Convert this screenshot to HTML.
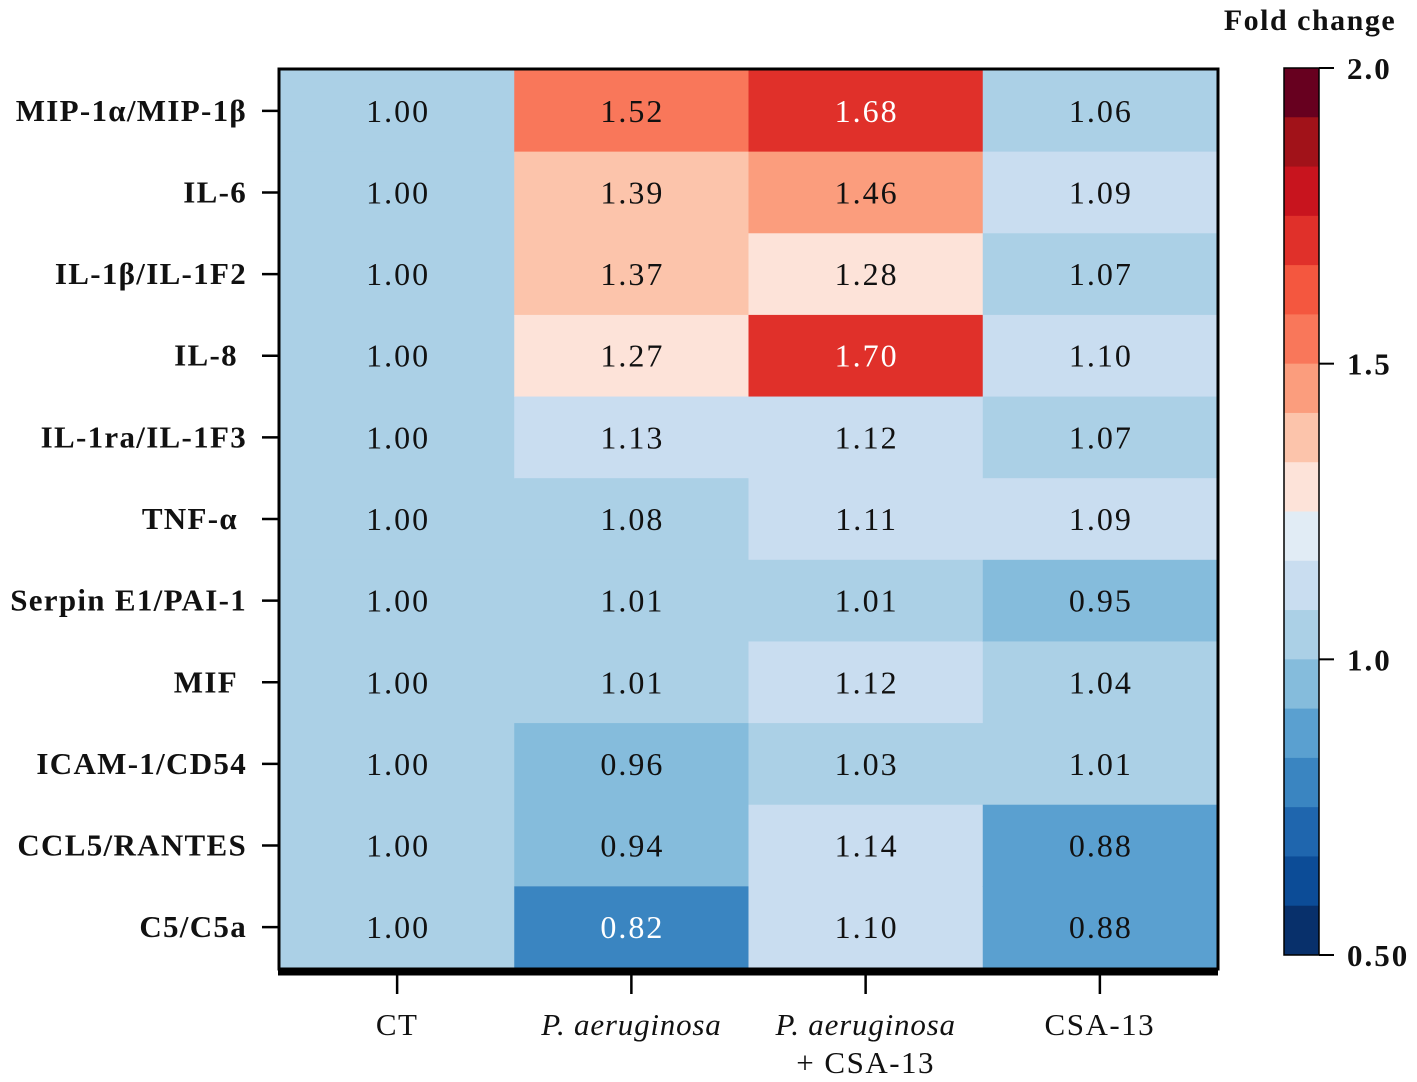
<!DOCTYPE html>
<html><head><meta charset="utf-8">
<style>
html,body{margin:0;padding:0;background:#fff;}
svg{display:block;}
text{font-family:"Liberation Serif",serif;}
</style></head>
<body>
<svg id="chart" width="1417" height="1082" viewBox="0 0 1417 1082" xmlns="http://www.w3.org/2000/svg"></svg>
<script>
const rows = ["MIP-1\u03b1/MIP-1\u03b2","IL-6","IL-1\u03b2/IL-1F2","IL-8\u00a0","IL-1ra/IL-1F3","TNF-\u03b1\u00a0","Serpin E1/PAI-1","MIF\u00a0","ICAM-1/CD54","CCL5/RANTES","C5/C5a"];
const cols = ["CT","P. aeruginosa","P. aeruginosa|+ CSA-13","CSA-13"];
const colCT = [1.00,1.00,1.00,1.00,1.00,1.00,1.00,1.00,1.00,1.00,1.00];
const colPA = [1.52,1.39,1.37,1.27,1.13,1.08,1.01,1.01,0.96,0.94,0.82];
const colPACSA = [1.68,1.46,1.28,1.70,1.12,1.11,1.01,1.12,1.03,1.14,1.10];
const colCSA = [1.06,1.09,1.07,1.10,1.07,1.09,0.95,1.04,1.01,0.88,0.88];
const cbTicks = [2.0,1.5,1.0,0.5];
const cbTickLabels = ["2.0","1.5","1.0","0.50"];
const palette = ["#67001f","#a11219","#c8141e","#e0302a","#f4573f","#f9775a","#fb9d7d","#fcc4ab","#fde3d9","#e1ecf5","#c9ddf0","#abd0e6","#85bcdc","#5aa0d0","#3a85c1","#1f66ae","#0c4c97","#08306b"];
const vmin=0.5, vmax=2.0;

const svg=document.getElementById('chart');
const NS="http://www.w3.org/2000/svg";
function mk(tag,attrs,parent){const e=document.createElementNS(NS,tag);for(const k in attrs)e.setAttribute(k,attrs[k]);(parent||svg).appendChild(e);return e;}

const X0=280,X1=1217,Y0=70,Y1=968;
const cw=(X1-X0)/cols.length, rh=(Y1-Y0)/rows.length;
const xCol=i=>X0+i*cw;
const yRow=j=>Y0+j*rh;
function bandOf(v){const step=(vmax-vmin)/palette.length;let idx=Math.ceil((vmax-v)/step-1e-6)-1;return Math.max(0,Math.min(palette.length-1,idx));}
function colorOf(v){return palette[bandOf(v)];}
function dark(v){const i=bandOf(v);return i<=3||i>=14;}

const data=[colCT,colPA,colPACSA,colCSA];
data.forEach((col,i)=>{col.forEach((v,j)=>{
  const r=mk('rect',{x:xCol(i),y:yRow(j),width:cw+0.5,height:rh+0.5,fill:colorOf(v)});
  
  
  const t=mk('text',{x:xCol(i)+cw/2+1,y:yRow(j)+rh/2+11,'text-anchor':'middle','font-size':32,'letter-spacing':2,fill:dark(v)?'#fff':'#111'});
  t.textContent=v.toFixed(2);
  
  
});});
const frame=mk('rect',{x:X0-1,y:Y0-1,width:X1-X0+2,height:Y1-Y0+2,fill:'none',stroke:'#000','stroke-width':3});



rows.forEach((r,j)=>{
  const yc=yRow(j)+rh/2;
  mk('line',{x1:262,x2:279,y1:yc,y2:yc,stroke:'#000','stroke-width':2.5});
  const t=mk('text',{x:247,y:yc+10,'text-anchor':'end','font-size':31,'font-weight':'bold','letter-spacing':1.3,fill:'#111'});
  t.textContent=r;
  
  
});

mk('line',{x1:278,x2:1218,y1:973,y2:973,stroke:'#000','stroke-width':5});
cols.forEach((c,i)=>{
  const xc=xCol(i)+cw/2;
  mk('line',{x1:xc,x2:xc,y1:973,y2:994,stroke:'#000','stroke-width':2.5});
  const parts=c.split('|');
  parts.forEach((p,k)=>{
    const it=p.startsWith('P.');
    const t=mk('text',{x:xc,y:1035+k*38,'text-anchor':'middle','font-size':31,'letter-spacing':it?0.8:1.5,fill:'#111','font-style':(it?'italic':'normal')});
    t.textContent=p;
    
    
  });
});

// colorbar
const CX=1284,CW=35,CY0=68,CY1=955;
const cy=v=>CY0+(vmax-v)/(vmax-vmin)*(CY1-CY0);
const bh=(CY1-CY0)/palette.length;
palette.forEach((c,k)=>{
  const r=mk('rect',{x:CX,y:CY0+k*bh,width:CW,height:bh+0.5,fill:c});
  
  
});
mk('rect',{x:CX,y:CY0,width:CW,height:CY1-CY0,fill:'none',stroke:'#000','stroke-width':1.5});
cbTicks.forEach((v,k)=>{
  const y=cy(v);
  mk('line',{x1:CX+CW,x2:CX+CW+15,y1:y,y2:y,stroke:'#000','stroke-width':2});
  const t=mk('text',{x:1347,y:y+11,'font-size':31,'font-weight':'bold','letter-spacing':2,fill:'#111'});
  t.textContent=cbTickLabels[k];
  
  
});
const ft=mk('text',{x:1310,y:30,'text-anchor':'middle','font-size':30,'font-weight':'bold','letter-spacing':1.5,fill:'#111'});
ft.textContent="Fold change";


</script>
</body></html>
